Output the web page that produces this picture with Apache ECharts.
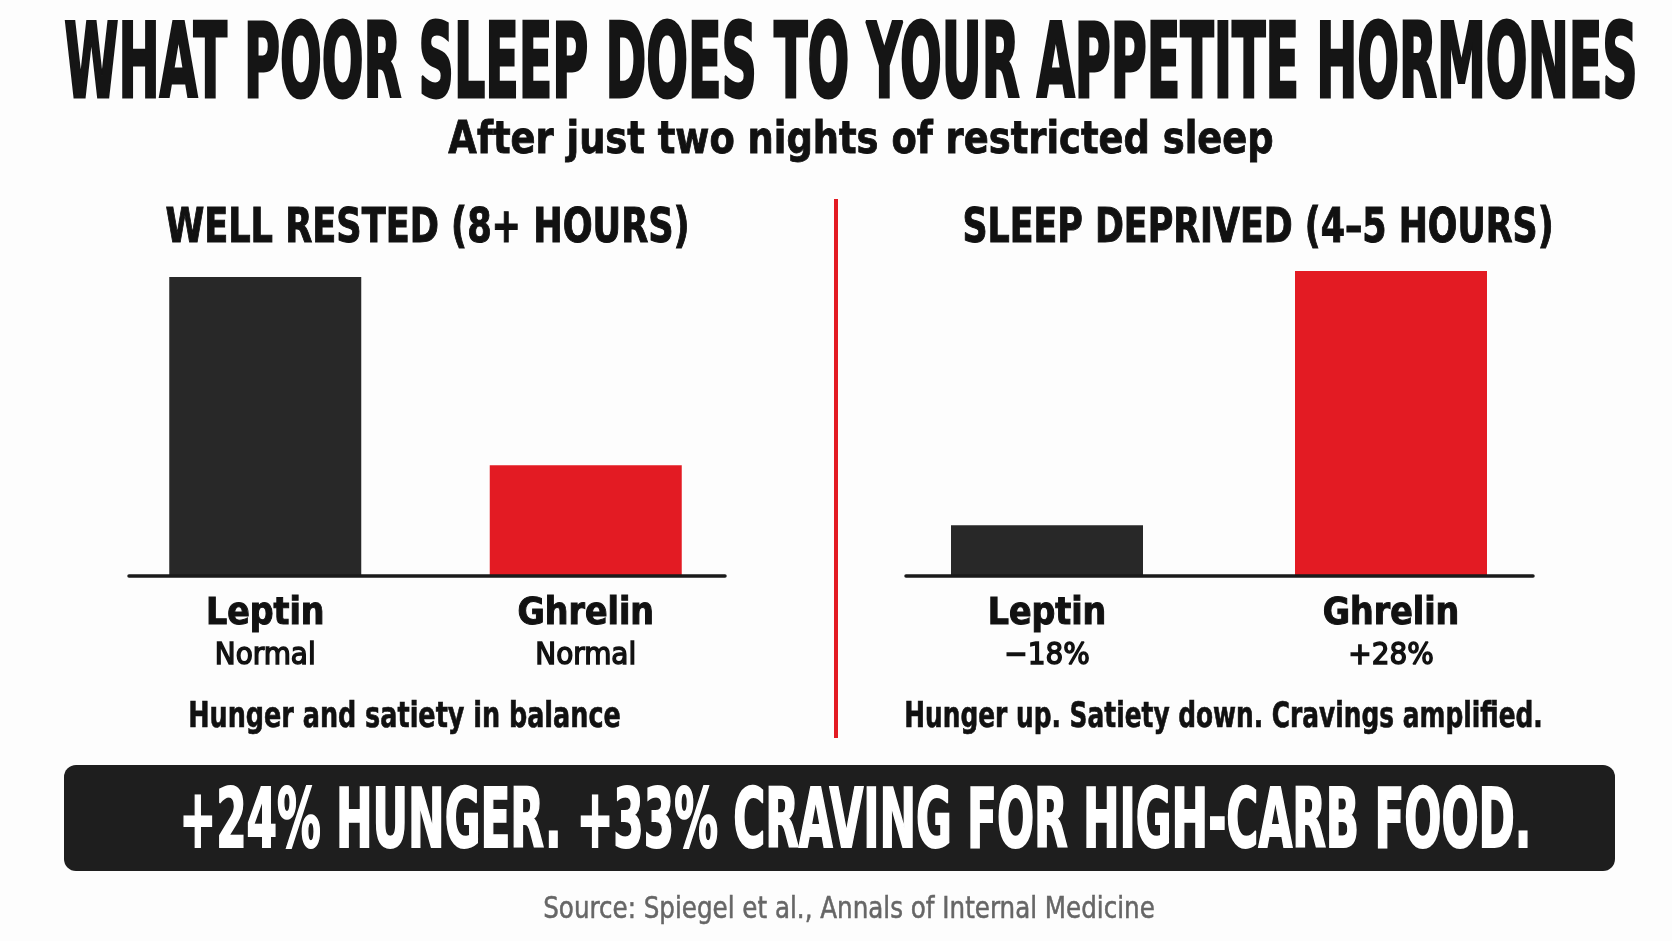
<!DOCTYPE html>
<html><head><meta charset="utf-8">
<script src="https://cdn.jsdelivr.net/npm/echarts@6.0.0/dist/echarts.min.js"></script>
<style>html,body{margin:0;padding:0;background:#fdfdfd}#c{width:1672px;height:941px}</style>
</head><body><div id="c"></div>
<script>
// ---- data ----
const categories = ['Leptin', 'Ghrelin'];
const restedValues = [100, 37];
const deprivedValues = [17, 102];
const restedNotes = ['Normal', 'Normal'];
const deprivedNotes = ['\u221218%', '+28%'];
const titleText = 'WHAT POOR SLEEP DOES TO YOUR APPETITE HORMONES';
const subtitleText = 'After just two nights of restricted sleep';
const panelTitles = ['WELL RESTED (8+ HOURS)', 'SLEEP DEPRIVED (4\u20135 HOURS)'];
const panelSummaries = ['Hunger and satiety in balance', 'Hunger up. Satiety down. Cravings amplified.'];
const bannerText = '+24% HUNGER. +33% CRAVING FOR HIGH-CARB FOOD.';
const sourceText = 'Source: Spiegel et al., Annals of Internal Medicine';

// ---- styles ----
const DARK = '#282828', RED = '#e31b23', INK = '#111111';
const FAM = "'Liberation Sans Narrow','DejaVu Sans Condensed','Liberation Sans',Arial,sans-serif";
const barColors = [DARK, RED];

const mctx = document.createElement('canvas').getContext('2d');
function fitText(text, cx, cy, width, size, weight, color, strokeW) {
  mctx.font = weight + ' ' + size + 'px ' + FAM;
  const w = mctx.measureText(text).width + (strokeW || 0);
  return {
    type: 'text', x: cx, y: cy + size * 0.05, scaleX: width / w, z: 10,
    style: {
      text: text, fontSize: size, fontWeight: weight, fontFamily: FAM,
      fill: color, align: 'center', verticalAlign: 'middle',
      stroke: strokeW ? color : null, lineWidth: strokeW || 0
    }
  };
}

const chart = echarts.init(document.getElementById('c'), null, {renderer: 'canvas'});

const barTop = 247, barHeight = 329, vMax = 110;
const labelRich = {
  a: {fontSize: 37, fontWeight: 'bold', fontFamily: FAM, color: INK, lineHeight: 44, textBorderColor: INK, textBorderWidth: 1},
  b: {fontSize: 31, fontWeight: 'normal', fontFamily: FAM, color: INK, lineHeight: 40, textBorderColor: INK, textBorderWidth: 1.4}
};
function barXAxis(gridIndex, notes) {
  return {
    type: 'category', gridIndex: gridIndex, data: categories,
    axisLine: {show: false}, axisTick: {show: false},
    axisLabel: {
      margin: 16, interval: 0,
      formatter: function (v, i) { return '{a|' + v + '}\n{b|' + notes[i] + '}'; },
      rich: labelRich
    }
  };
}
function baseXAxis(gridIndex) {
  return {
    type: 'value', gridIndex: gridIndex, min: 0, max: 1,
    axisLine: {show: true, onZero: false, lineStyle: {color: '#1a1a1a', width: 3.5}},
    axisTick: {show: false}, axisLabel: {show: false}, splitLine: {show: false}, z: 5
  };
}
function hiddenY(gridIndex) {
  return {type: 'value', gridIndex: gridIndex, min: 0, max: vMax, show: false, splitLine: {show: false}};
}
function barSeries(idx, values) {
  return {
    type: 'bar', xAxisIndex: idx, yAxisIndex: idx, data: values, barWidth: 192,
    itemStyle: {color: function (p) { return barColors[p.dataIndex]; }},
    silent: true
  };
}

chart.setOption({
  backgroundColor: '#fdfdfd',
  animation: false,
  grid: [
    {left: 105, width: 641, top: barTop, height: barHeight},
    {left: 875, width: 688, top: barTop, height: barHeight},
    {left: 129, width: 596, top: barTop, height: barHeight},
    {left: 906, width: 627, top: barTop, height: barHeight}
  ],
  xAxis: [barXAxis(0, restedNotes), barXAxis(1, deprivedNotes), baseXAxis(2), baseXAxis(3)],
  yAxis: [hiddenY(0), hiddenY(1), hiddenY(2), hiddenY(3)],
  series: [
    barSeries(0, restedValues),
    barSeries(1, deprivedValues),
    {type: 'line', xAxisIndex: 2, yAxisIndex: 2, data: []},
    {type: 'line', xAxisIndex: 3, yAxisIndex: 3, data: []}
  ],
  graphic: [
    fitText(titleText, 851, 65, 1575, 104, 'bold', '#151515', 3),
    fitText(subtitleText, 861, 139, 826, 44, 'bold', INK, 0.8),
    fitText(panelTitles[0], 427.5, 227.5, 525, 48, 'bold', INK, 1),
    fitText(panelTitles[1], 1258, 227.5, 592, 48, 'bold', INK, 1),
    fitText(panelSummaries[0], 404.5, 716.5, 433, 35, 'bold', INK, 0.6),
    fitText(panelSummaries[1], 1223.5, 716.5, 639, 35, 'bold', INK, 0.6),
    {type: 'line', z: 5, shape: {x1: 836, y1: 199, x2: 836, y2: 738}, style: {stroke: RED, lineWidth: 4}},
    {type: 'rect', z: 5, shape: {x: 64, y: 765, width: 1551, height: 106, r: 12}, style: {fill: '#1e1e1e'}},
    fitText(bannerText, 855.5, 822, 1353, 82, 'bold', '#ffffff', 2),
    fitText(sourceText, 849, 908.5, 612, 30, 'normal', '#666666', 0.5)
  ]
});
</script>
</body></html>
